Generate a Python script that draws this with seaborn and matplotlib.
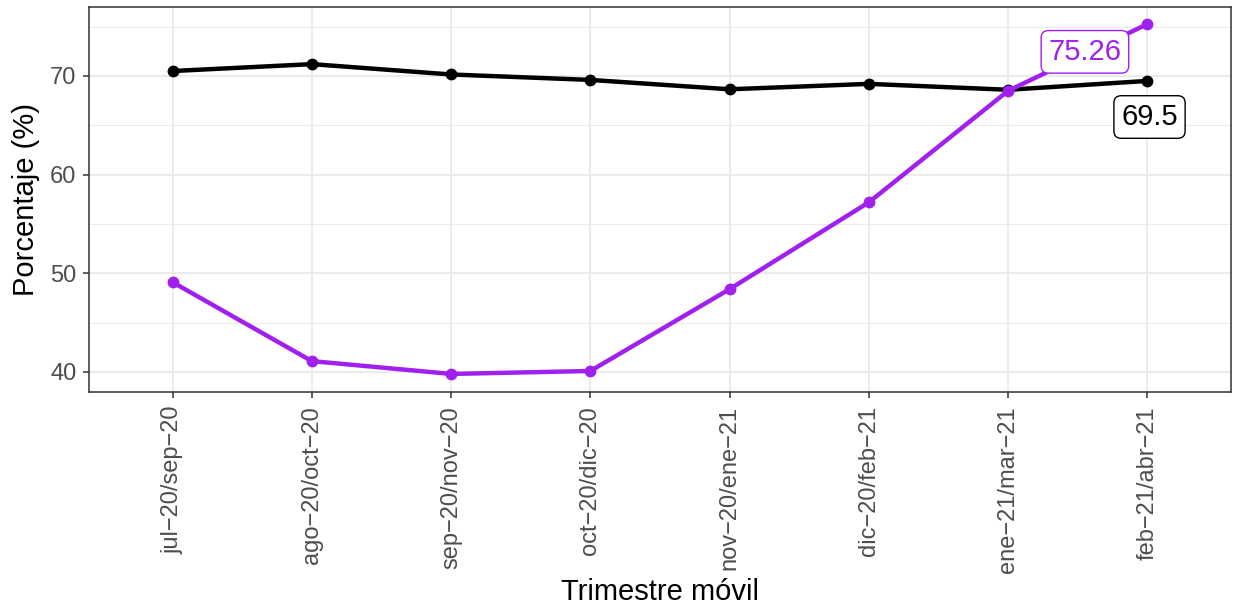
import numpy as np
import pandas as pd
import matplotlib
matplotlib.use("Agg")
import matplotlib.pyplot as plt
import seaborn as sns

# Data
trimestres = ["jul\u221220/sep\u221220", "ago\u221220/oct\u221220", "sep\u221220/nov\u221220",
              "oct\u221220/dic\u221220", "nov\u221220/ene\u221221", "dic\u221220/feb\u221221",
              "ene\u221221/mar\u221221", "feb\u221221/abr\u221221"]
serie_negra = [70.5, 71.2, 70.15, 69.6, 68.65, 69.2, 68.6, 69.5]
serie_morada = [49.1, 41.1, 39.8, 40.1, 48.4, 57.2, 68.5, 75.26]

col_negra = "#000000"
col_morada = "#A020F0"

df = pd.DataFrame({
    "trimestre": trimestres * 2,
    "valor": serie_negra + serie_morada,
    "serie": ["negra"] * len(trimestres) + ["morada"] * len(trimestres),
})

sns.set_theme(style="whitegrid")
plt.rcParams["font.family"] = ["Liberation Sans", "DejaVu Sans"]

fig = plt.figure(figsize=(12.36, 6.13), dpi=100)
ax = fig.add_axes([89 / 1236, 1 - 392 / 613, (1231 - 89) / 1236, (392 - 7) / 613])

sns.lineplot(data=df, x="trimestre", y="valor", hue="serie",
             palette={"negra": col_negra, "morada": col_morada},
             linewidth=3.2, marker="o", markersize=8.5, markeredgewidth=0,
             sort=False, legend=False, ax=ax)

ax.set_xlim(-0.6, len(trimestres) - 1 + 0.6)
ax.set_ylim(37.97, 76.99)
ax.set_yticks([40, 50, 60, 70])
ax.set_yticks([45, 55, 65, 75], minor=True)

ax.set_facecolor("white")
ax.grid(True, which="major", color="#EBEBEB", linewidth=1.4)
ax.grid(True, which="minor", color="#EBEBEB", linewidth=0.7)
ax.set_axisbelow(True)
for s in ax.spines.values():
    s.set_color("#333333")
    s.set_linewidth(1.1)

ax.tick_params(axis="both", which="major", length=4, width=1.1, color="#333333",
               labelsize=17, labelcolor="#4D4D4D", bottom=True, left=True)
ax.tick_params(axis="x", which="major", pad=6)
ax.tick_params(axis="y", which="major", pad=5)
ax.tick_params(axis="both", which="minor", length=0)
plt.setp(ax.get_xticklabels(), rotation=90)

ax.set_xlabel("Trimestre m\u00f3vil", fontsize=21, color="black", labelpad=4)
ax.set_ylabel("Porcentaje (%)", fontsize=21, color="black", labelpad=7)

# Labels on the last points
n = len(trimestres) - 1
ax.annotate(f"{serie_morada[-1]:.2f}", xy=(n, serie_morada[-1]), xytext=(-45, -20),
            textcoords="offset points", ha="center", va="center", fontsize=21,
            color=col_morada,
            bbox=dict(boxstyle="round,pad=0.25,rounding_size=0.25", fc="white",
                      ec=col_morada, lw=1.0))
ax.annotate(f"{serie_negra[-1]:g}", xy=(n, serie_negra[-1]), xytext=(1.5, -26),
            textcoords="offset points", ha="center", va="center", fontsize=21,
            color=col_negra,
            bbox=dict(boxstyle="round,pad=0.25,rounding_size=0.25", fc="white",
                      ec=col_negra, lw=1.0))

fig.savefig("out.png", dpi=100)
